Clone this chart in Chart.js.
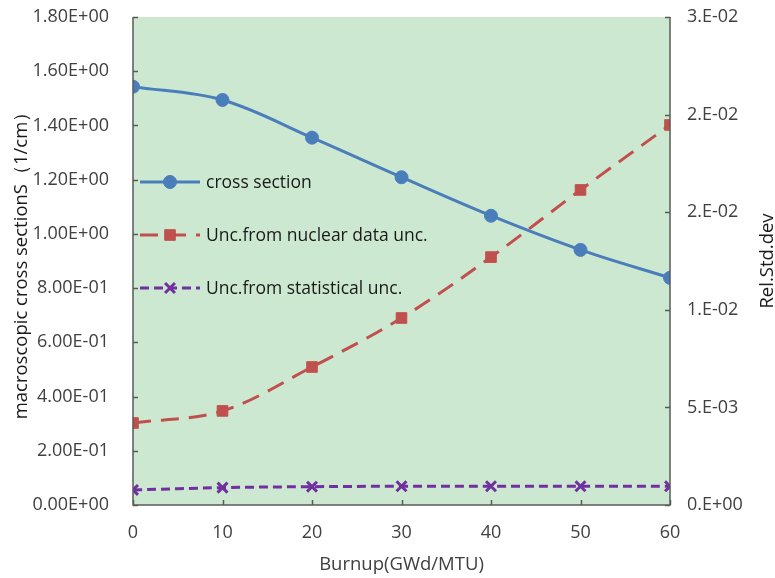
<!DOCTYPE html>
<html>
<head>
<meta charset="utf-8">
<script src="https://cdn.jsdelivr.net/npm/chart.js@4.4.1/dist/chart.umd.min.js"></script>
<style>
  html, body { margin: 0; padding: 0; background: #fff; }
  #wrap { width: 775px; height: 578px; }
</style>
</head>
<body>
<div id="wrap"><canvas id="xsChart" width="775" height="578"></canvas></div>
<script>
// burnup steps (GWd/MTU)
const burnup = [0, 10, 20, 30, 40, 50, 60];
// macroscopic cross section (1/cm), left axis
const crossSection = [1.543, 1.494, 1.355, 1.209, 1.067, 0.941, 0.838];
// relative std. dev., right axis
const uncNuclear = [0.0042, 0.00482, 0.00707, 0.00958, 0.0127, 0.01614, 0.01947];
const uncStat = [0.00077, 0.00089, 0.00094, 0.00096, 0.00096, 0.00096, 0.00096];

const leftTicks = [0, 0.2, 0.4, 0.6, 0.8, 1.0, 1.2, 1.4, 1.6, 1.8];
const rightTicks = [0, 0.005, 0.01, 0.015, 0.02, 0.025];

const FONT = "'Open Sans', 'Noto Sans', sans-serif";
const TXT = '#404040';

function pts(ys) {
  return burnup.map((b, i) => ({x: b, y: ys[i]}));
}

// Excel-like "0.00E+00"
function sci2(v) {
  return v.toExponential(2).toUpperCase().replace(/E([+-])(\d)$/, 'E$10$2');
}

// Excel-like "0.E+00" (mantissa rounded half up)
function sci0(v) {
  if (v === 0) return '0.E+00';
  let e = Math.floor(Math.log10(v) + 1e-9);
  let m = Math.round(v / Math.pow(10, e) + 1e-9);
  if (m === 10) { m = 1; e++; }
  const ae = Math.abs(e);
  return m + '.E' + (e < 0 ? '-' : '+') + (ae < 10 ? '0' : '') + ae;
}

// fixed box sizes so the plot area sits at 133..670 x 17..505
function fixBox(size) {
  return s => {
    if (s.isHorizontal()) s.height = size; else s.width = size;
    s.paddingTop = 0; s.paddingBottom = 0;
    s.paddingLeft = 0; s.paddingRight = 0;
  };
}

// light green plot background
const plotBg = {
  id: 'plotBg',
  beforeDraw(chart) {
    const {ctx, chartArea: a} = chart;
    ctx.save();
    ctx.fillStyle = '#cde8d0';
    ctx.fillRect(a.left, a.top, a.right - a.left, a.bottom - a.top);
    ctx.restore();
  }
};

// frame with inward tick marks, plus the right-hand axis title
const frame = {
  id: 'frame',
  afterDatasetsDraw(chart) {
    const {ctx, chartArea: a, scales} = chart;
    ctx.save();
    ctx.strokeStyle = '#595959';
    ctx.lineWidth = 1.5;
    ctx.beginPath();
    ctx.moveTo(a.left, a.top); ctx.lineTo(a.left, a.bottom); ctx.lineTo(a.right, a.bottom); ctx.lineTo(a.right, a.top);
    scales.y.ticks.forEach(t => {
      const y = Math.round(scales.y.getPixelForValue(t.value)) + 0.5;
      ctx.moveTo(a.left, y); ctx.lineTo(a.left + 5, y);
    });
    scales.y2.ticks.forEach(t => {
      const y = Math.round(scales.y2.getPixelForValue(t.value)) + 0.5;
      ctx.moveTo(a.right, y); ctx.lineTo(a.right - 5, y);
    });
    scales.x.ticks.forEach(t => {
      const x = Math.round(scales.x.getPixelForValue(t.value)) + 0.5;
      ctx.moveTo(x, a.bottom); ctx.lineTo(x, a.bottom - 5);
    });
    ctx.stroke();

    ctx.translate(768, (a.top + a.bottom) / 2);
    ctx.rotate(-Math.PI / 2);
    ctx.fillStyle = '#1a1a1a';
    ctx.font = '18.5px ' + FONT;
    ctx.textAlign = 'center';
    ctx.textBaseline = 'middle';
    ctx.fillText('Rel.Std.dev', 0, 0);
    ctx.restore();
  }
};

// legend drawn inside the plot, one row per series
const innerLegend = {
  id: 'innerLegend',
  afterDraw(chart) {
    const {ctx} = chart;
    const rows = [182, 235, 288];
    ctx.save();
    chart.data.datasets.forEach((ds, i) => {
      const y = rows[i];
      ctx.strokeStyle = ds.borderColor;
      ctx.lineWidth = ds.borderWidth;
      ctx.setLineDash(ds.borderDash || []);
      ctx.beginPath();
      ctx.moveTo(140, y); ctx.lineTo(200, y);
      ctx.stroke();
      ctx.setLineDash([]);
      ctx.fillStyle = ds.backgroundColor;
      ctx.lineWidth = ds.pointBorderWidth || 1;
      Chart.helpers.drawPoint(ctx, {
        pointStyle: ds.pointStyle, radius: ds.pointRadius, rotation: 0,
        borderWidth: ds.pointBorderWidth || 1
      }, 170, y);
      ctx.fillStyle = '#1a1a1a';
      ctx.font = '17.5px ' + FONT;
      ctx.textBaseline = 'middle';
      ctx.fillText(ds.label, 206, y + 1);
    });
    ctx.restore();
  }
};

new Chart('xsChart', {
  type: 'line',
  data: {
    datasets: [{
      label: 'cross section',
      data: pts(crossSection),
      yAxisID: 'y',
      borderColor: '#4a7ebb',
      backgroundColor: '#4a7ebb',
      borderWidth: 3,
      tension: 0.35,
      pointStyle: 'circle',
      pointRadius: 6.5,
      pointBorderWidth: 1
    }, {
      label: 'Unc.from nuclear data unc.',
      data: pts(uncNuclear),
      yAxisID: 'y2',
      borderColor: '#c0504d',
      backgroundColor: '#c0504d',
      borderWidth: 3,
      borderDash: [18, 10],
      tension: 0.35,
      pointStyle: 'rect',
      pointRadius: 7.5,
      pointBorderWidth: 1
    }, {
      label: 'Unc.from statistical unc.',
      data: pts(uncStat),
      yAxisID: 'y2',
      borderColor: '#7030a0',
      backgroundColor: '#7030a0',
      borderWidth: 3,
      borderDash: [9, 5],
      tension: 0.35,
      pointStyle: 'crossRot',
      pointRadius: 7,
      pointBorderWidth: 3
    }]
  },
  options: {
    responsive: false,
    animation: false,
    layout: { padding: { top: 17, right: 0, left: 0, bottom: 0 } },
    plugins: { legend: { display: false }, tooltip: { enabled: false } },
    scales: {
      x: {
        type: 'linear', min: 0, max: 60,
        grid: { display: false },
        border: { display: false },
        ticks: { stepSize: 10, color: TXT, font: { family: FONT, size: 18 }, padding: 9 },
        title: { display: true, text: 'Burnup(GWd/MTU)', color: TXT, font: { family: FONT, size: 18.5 }, padding: { top: 0, bottom: 2 } },
        afterFit: fixBox(73)
      },
      y: {
        position: 'left', min: 0, max: 1.8,
        grid: { display: false },
        border: { display: false },
        afterBuildTicks(s) { s.ticks = leftTicks.map(v => ({value: v})); },
        ticks: { color: TXT, font: { family: FONT, size: 18 }, padding: 16, callback: v => sci2(v) },
        title: { display: true, text: 'macroscopic cross sectionS（1/cm）', color: '#1a1a1a', font: { family: FONT, size: 18.5 }, padding: { top: 11 } },
        afterFit: fixBox(133)
      },
      y2: {
        position: 'right', min: 0, max: 0.025,
        grid: { display: false },
        border: { display: false },
        afterBuildTicks(s) { s.ticks = rightTicks.map(v => ({value: v})); },
        ticks: { color: TXT, font: { family: FONT, size: 18 }, padding: 9, callback: v => sci0(v) },
        afterFit: fixBox(105)
      }
    }
  },
  plugins: [plotBg, frame, innerLegend]
});
</script>
</body>
</html>
